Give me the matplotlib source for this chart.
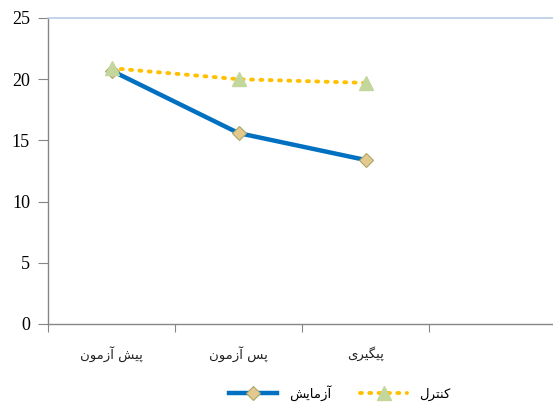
import matplotlib
matplotlib.use("Agg")
import matplotlib.pyplot as plt

# داده‌ها
stages = ["پیش آزمون", "پس آزمون", "پیگیری"]
group_test = [20.7, 15.6, 13.4]
group_ctrl = [20.9, 20.0, 19.7]
name_test = "آزمایش"
name_ctrl = "کنترل"

# شکل‌های حروف (جدا، پایانی، آغازی، میانی) برای نمایش درست فارسی
FORMS = {
    "پ": ("\uFB56", "\uFB57", "\uFB58", "\uFB59"),
    "ی": ("\uFBFC", "\uFBFD", "\uFBFE", "\uFBFF"),
    "ش": ("\uFEB5", "\uFEB6", "\uFEB7", "\uFEB8"),
    "س": ("\uFEB1", "\uFEB2", "\uFEB3", "\uFEB4"),
    "م": ("\uFEE1", "\uFEE2", "\uFEE3", "\uFEE4"),
    "ن": ("\uFEE5", "\uFEE6", "\uFEE7", "\uFEE8"),
    "گ": ("\uFB92", "\uFB93", "\uFB94", "\uFB95"),
    "ک": ("\uFB8E", "\uFB8F", "\uFB90", "\uFB91"),
    "ت": ("\uFE95", "\uFE96", "\uFE97", "\uFE98"),
    "ل": ("\uFEDD", "\uFEDE", "\uFEDF", "\uFEE0"),
    "آ": ("\uFE81", "\uFE82"),
    "ز": ("\uFEAF", "\uFEB0"),
    "و": ("\uFEED", "\uFEEE"),
    "ر": ("\uFEAD", "\uFEAE"),
    "ا": ("\uFE8D", "\uFE8E"),
}


def fa(text):
    out = []
    for i, ch in enumerate(text):
        if ch not in FORMS:
            out.append(ch)
            continue
        prev = text[i - 1] if i > 0 else " "
        nxt = text[i + 1] if i + 1 < len(text) else " "
        join_prev = prev in FORMS and len(FORMS[prev]) == 4
        join_next = len(FORMS[ch]) == 4 and nxt in FORMS
        f = FORMS[ch]
        if join_prev and join_next:
            out.append(f[3])
        elif join_prev:
            out.append(f[1])
        elif join_next:
            out.append(f[2])
        else:
            out.append(f[0])
    return "".join(out)[::-1]


fig = plt.figure(figsize=(5.53, 4.04), dpi=100)
ax = fig.add_axes([48 / 553, 80 / 404, 508 / 553, 306 / 404])

x = list(range(len(stages)))
ax.plot(x, group_test, color="#0070C0", lw=3.2, marker="D", ms=7,
        mfc="#E3C98E", mec="#A8A76A", mew=0.8, label=fa(name_test), zorder=3)
ax.plot(x, group_ctrl, color="#FFC000", lw=2.8, ls=(0, (0.5, 1.9)),
        dash_capstyle="round", marker="^", ms=10, mfc="#C3D69B",
        mec="#C3D69B", label=fa(name_ctrl), zorder=4)

ax.set_xlim(-0.5, 3.5)
ax.set_ylim(0, 25)
ax.set_yticks(range(0, 26, 5))
ax.set_yticklabels([str(v) for v in range(0, 26, 5)],
                   fontfamily="Liberation Serif", fontsize=13)

ax.set_xticks([-0.5, 0.5, 1.5, 2.5])
ax.set_xticklabels([])
ax.set_xticks(x, minor=True)
ax.set_xticklabels([fa(s) for s in stages], minor=True,
                   fontfamily="DejaVu Sans", fontsize=9.5, color="#222222")
ax.tick_params(axis="x", which="minor", length=0, pad=16)
ax.tick_params(axis="x", which="major", length=6, color="#868686", direction="out")
ax.tick_params(axis="y", length=7, color="#868686", pad=6)

for side in ("left", "bottom"):
    ax.spines[side].set_color("#868686")
    ax.spines[side].set_linewidth(1.0)
ax.spines["top"].set_color("#B9CDE5")
ax.spines["top"].set_linewidth(1.2)
ax.spines["right"].set_visible(False)

leg = ax.legend(loc="upper center", bbox_to_anchor=(0.575, -0.16),
                ncol=2, frameon=False, fontsize=9.5, handlelength=3.6,
                columnspacing=2.2, handletextpad=0.9)

fig.savefig("out.png", dpi=100)
